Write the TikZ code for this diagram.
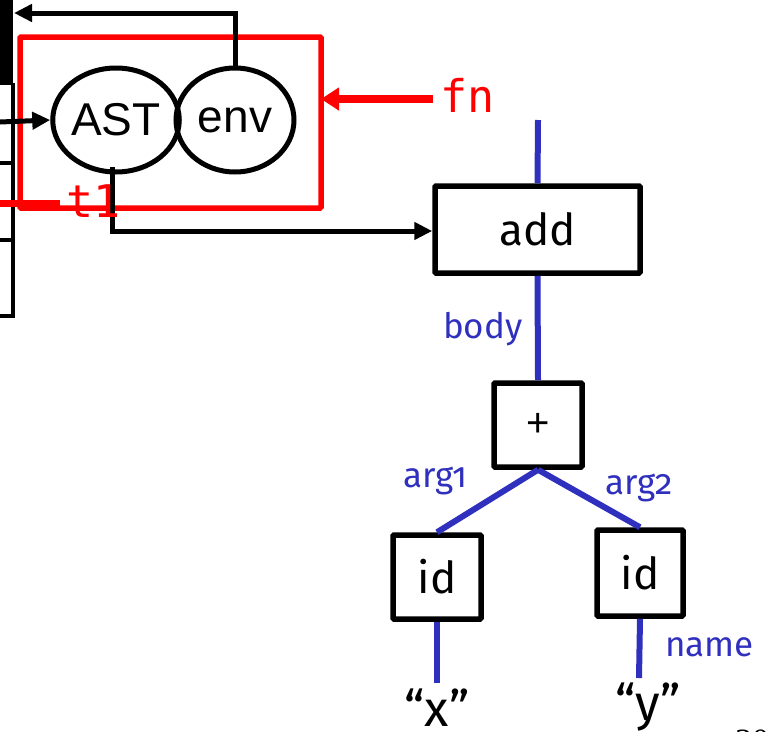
\documentclass[tikz,border=0pt]{standalone}
\usepackage{fontspec}
\setmainfont{Liberation Serif}
\newfontfamily\arialf{Liberation Sans}
\newfontfamily\humf[Numbers=OldStyle]{Fira Sans}
\newfontfamily\monof{DejaVu Sans Mono}
\usetikzlibrary{arrows.meta,shapes.geometric}
\definecolor{edgeblue}{RGB}{48,48,190}
\definecolor{myred}{RGB}{255,0,0}
\tikzset{
  treebox/.style={draw=black,line width=5.5pt,rounded corners=1pt,inner sep=0pt,font=\humf\fontsize{44}{44}\selectfont},
  oval/.style={draw=black,line width=5pt,ellipse,inner sep=0pt,font=\arialf\fontsize{46}{46}\selectfont},
  edge/.style={draw=edgeblue,line width=6pt},
  elabel/.style={text=edgeblue,font=\humf\fontsize{35}{35}\selectfont,inner sep=0pt},
  blackarrow/.style={draw=black,line width=5pt,-{Triangle[length=18pt,width=17pt]}},
  redline/.style={draw=myred,line width=7pt},
  monolabel/.style={text=myred,font=\monof\fontsize{45}{45}\selectfont,inner sep=0pt},
  stackline/.style={draw=black,line width=3.5pt}
}
\begin{document}
\begin{tikzpicture}[x=1pt,y=-1pt]
\useasboundingbox (0,0) rectangle (775,731);
% left stack
\fill[black] (0,0) rectangle (13,83);
\draw[stackline] (13,83) -- (13,316) -- (0,316);
\draw[stackline] (0,83) -- (13,83);
\draw[stackline] (0,163) -- (13,163);
\draw[stackline] (0,240) -- (13,240);
\coordinate (stacktop) at (14,13);
\coordinate (stackleft) at (0,122);
% red frame
\draw[draw=myred,line width=5.5pt,rounded corners=1pt] (20,37) rectangle (321,208);
\coordinate (frameright) at (321,99);
% ovals
\node[oval,minimum width=116pt,minimum height=104pt] (ast) at (116,120) {AST};
\node[oval,minimum width=118pt,minimum height=104pt] (env) at (235,120) {env};
% tree
\node[treebox,minimum width=205pt,minimum height=87pt] (add) at (537.5,229.5) {add};
\node[treebox,minimum width=88pt,minimum height=84pt,font=\arialf\fontsize{40}{40}\selectfont] (plus) at (538,425) {+};
\node[treebox,minimum width=88pt,minimum height=84pt] (id1) at (437,577) {id};
\node[treebox,minimum width=86pt,minimum height=86pt] (id2) at (640,573) {id};
\node[font=\humf\fontsize{50}{50}\selectfont,inner sep=0pt,anchor=base] (sx) at (437,726) {“x”};
\node[font=\humf\fontsize{50}{50}\selectfont,inner sep=0pt,anchor=base] (sy) at (648,720) {“y”};
\coordinate (top) at (538,120);
\coordinate (x1) at (437,683);
\coordinate (y1) at (639,678);
% blue edges
\draw[edge] (top) -- (add.north);
\draw[edge] (add.south) -- (plus.north);
\draw[edge] (plus.south) -- (id1.north);
\draw[edge] (plus.south) -- (id2.north);
\draw[edge] (id1.south) -- (x1);
\draw[edge] (id2.south) -- (y1);
% edge labels
\node[elabel,anchor=base west] (lbody) at (443,338) {body};
\node[elabel,anchor=base west] (larg1) at (403,487) {arg1};
\node[elabel,anchor=base west] (larg2) at (605,494) {arg2};
\node[elabel,anchor=base west] (lname) at (665,656) {name};
% black arrows
\draw[blackarrow] (env.north) -- (env.north |- stacktop) -- (stacktop);
\draw[blackarrow] (stackleft) -- (ast.west);
\coordinate (astb) at (112,167);
\draw[blackarrow] (astb) -- (112,231) -- (add.west |- 0,231);
% red t1 and fn
\coordinate (t1l) at (0,203);
\node[monolabel,anchor=base west] (t1) at (66,217) {t1};
\draw[redline] (t1l) -- (60,203);
\node[monolabel,anchor=base west] (fn) at (440,112) {fn};
\draw[redline,line width=8pt,-{Triangle[length=18pt,width=22pt]}] (433,99) -- (frameright);
% page number
\node[font=\fontsize{34}{34}\selectfont,anchor=base west,inner sep=0pt] (pg) at (735,752) {30};
\end{tikzpicture}
\end{document}
